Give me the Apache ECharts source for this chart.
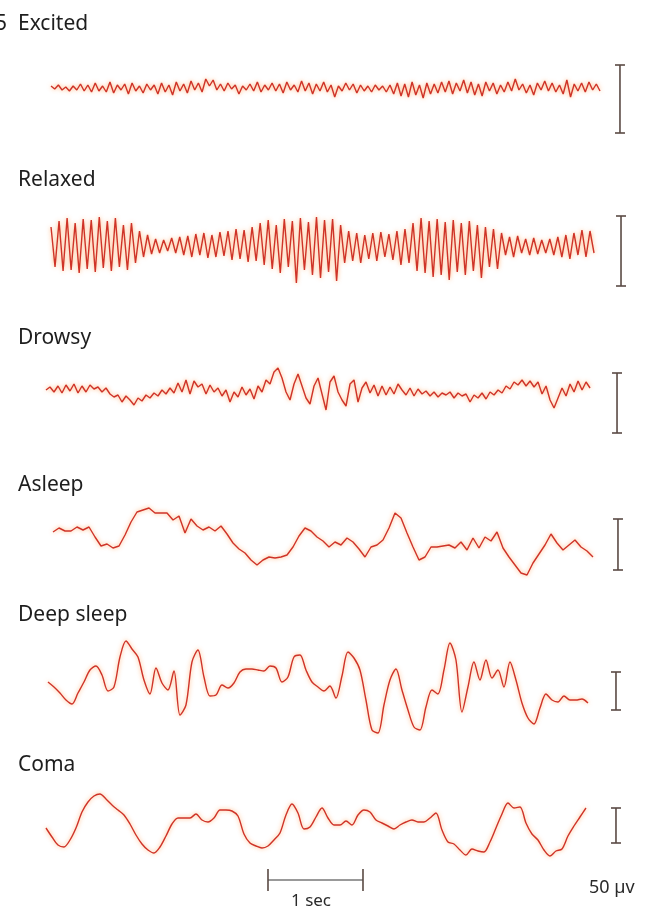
<!DOCTYPE html>
<html>
<head>
<meta charset="utf-8">
<script src="https://cdn.jsdelivr.net/npm/echarts@6/dist/echarts.min.js"></script>
<style>
  html, body { margin: 0; padding: 0; background: #fff; }
  #chart { width: 661px; height: 916px; }
</style>
</head>
<body>
<div id="chart"></div>
<script>
// EEG states, top to bottom
const ROW_NAMES = ['Excited', 'Relaxed', 'Drowsy', 'Asleep', 'Deep sleep', 'Coma'];

// deflection samples (up = positive)
const excitedTrace = [
    2,-1,3,-2,1,-3,2,-2,4,-3,3,-4,5,-3,2,
    -4,6,-5,3,-2,4,-6,5,-3,2,-5,4,-2,3,-6,
    5,-4,3,-7,6,-3,4,-5,7,-2,5,-4,9,2,8,
    -2,4,-3,5,-1,3,-6,2,-2,4,-3,6,-4,3,-2,
    5,-3,4,-5,6,-2,3,-4,7,-3,5,-6,4,-3,6,
    -4,3,-9,2,-3,5,-2,4,-5,3,-3,2,-4,3,-2,
    2,-4,3,-6,5,-8,4,-9,6,-7,3,-10,5,-6,4,
    -5,6,-4,7,-6,5,-3,8,-5,6,-7,4,-8,6,-3,
    5,-6,3,-4,6,-3,9,-2,4,-5,3,-7,5,-2,7,
    -3,5,-4,3,-6,8,-9,4,-3,5,-4,6,-2,4,-3
];
const relaxedTrace = [
    18,-22,24,-26,27,-25,22,-28,26,-24,25,-27,28,-23,24,-26,27,-22,20,-25,22,-18,
    14,-12,10,-9,6,-8,5,-6,7,-8,
    8,-10,9,-12,11,-10,12,-13,10,-12,13,-11,14,-15,16,-14,15,-17,18,-16,
    22,-20,25,-24,20,-28,26,-22,24,-38,27,-25,23,-30,28,-33,25,-27,26,-36,
    20,-18,14,-16,12,-18,10,-14,12,-16,13,-12,11,-15,14,-20,16,-18,
    22,-26,27,-28,24,-32,26,-30,23,-35,25,-27,22,-30,24,-26,20,-33,18,-22,16,-24,
    12,-10,8,-12,9,-8,6,-10,7,-9,5,-8,6,-10,8,-12,10,-14,12,-10,15,-12,14,-8
];
const drowsyTrace = [
    0,3,-2,4,-3,5,-1,6,-3,4,-2,5,1,3,-2,2,-4,-7,-5,-12,-6,-10,-15,-8,-11,-5,-8,-3,-6,0,
    -4,2,-3,7,-2,10,-4,9,3,6,-4,5,-2,2,-6,0,-12,-2,-7,3,-5,1,-9,4,-2,10,6,18,22,12,
    -2,-10,6,16,4,-8,-14,4,12,-4,-20,8,14,-2,-10,-16,6,10,-12,2,8,-3,5,-6,4,-5,3,-4,6,0,
    -5,2,-6,1,-4,-1,-6,-2,-7,-3,-5,-2,-8,-3,-6,-4,-12,-5,-8,-3,-9,-2,-5,0,-3,4,1,8,5,10,
    4,9,3,8,-4,4,-10,-18,-8,2,-6,6,-2,9,0,8,2
];
const asleepTrace = [
    8,12,9,9,13,10,13,3,-6,-4,-8,-6,5,18,28,30,32,27,27,27,20,24,7,21,14,10,13,9,14,6,
    -3,-9,-13,-20,-25,-20,-17,-18,-17,-15,-7,4,12,9,3,-1,-7,-2,-5,2,-2,-9,-17,-7,-5,0,12,27,22,7,
    -7,-20,-17,-7,-7,-6,-5,-8,-2,-10,2,-8,3,-1,8,-8,-17,-25,-33,-35,-23,-14,-5,6,-3,-10,-5,0,-7,-11,-17
];
const deepSleepTrace = [
    8,3,-3,-10,-14,-3,8,20,24,15,-1,3,33,49,41,33,10,-4,22,7,0,19,-25,-15,28,40,13,-6,-5,5,
    2,7,18,21,21,20,19,24,22,8,13,33,35,20,8,3,-1,4,-8,14,38,32,20,-10,-40,-43,-15,10,21,0,
    -20,-37,-40,-17,0,-4,20,47,30,-22,3,28,10,30,12,20,3,28,10,-13,-28,-34,-18,-4,-10,-12,-6,-10,-10,-9,-13
];
const comaTrace = [
    -3,-12,-20,-22,-15,-3,13,23,29,31,26,20,15,10,1,-10,-19,-25,-28,-22,-11,1,7,7,7,11,5,3,7,15,
    15,14,9,-9,-18,-21,-23,-21,-15,-8,10,21,12,-4,-2,8,17,7,0,0,4,0,10,15,13,5,2,-1,-4,0,
    3,5,3,3,7,12,-5,-17,-19,-25,-30,-24,-26,-27,-17,-3,11,22,17,18,2,-9,-15,-25,-31,-26,-24,-11,-1,8,17
];
const TRACES = [excitedTrace, relaxedTrace, drowsyTrace, asleepTrace, deepSleepTrace, comaTrace];

// time span of each trace, seconds
const traceStartSec = [0.537, 0.537, 0.484, 0.558, 0.505, 0.484];
const traceEndSec = [6.316, 6.253, 6.211, 6.242, 6.189, 6.168];

// 50 µV calibration bar per row (top / bottom, same units as trace)
const calibTop = [23, 29, 17, 21, 18, 17];
const calibBottom = [-45, -41, -43, -30, -20, -18];
const calibSec = [6.526, 6.537, 6.495, 6.505, 6.484, 6.484];

// 1 second time bar
const timeBarSec = [2.821, 3.821];
const timeBarLevel = -55;

// ---- layout ----
const PX_PER_SEC = 95;
const WIDTH = 661;
const ROW_BASE = [88, 245, 390, 540, 690, 825];
const ROW_LABEL_Y = [27, 183, 341, 488, 618, 768];
const ROW_SMOOTH = [false, false, false, false, 0.3, 0.3];
const HALF = 80;
const TRACE_COLOR = '#cf3328';
const BAR_COLOR = '#5a4a44';
const FONT = '"Noto Sans", "Open Sans", sans-serif';

const chart = echarts.init(document.getElementById('chart'), null, { renderer: 'canvas' });

const grids = [], xAxes = [], yAxes = [], series = [];

ROW_NAMES.forEach((name, i) => {
    grids.push({ left: 0, width: WIDTH, top: ROW_BASE[i] - HALF, height: HALF * 2 });
    xAxes.push({ gridIndex: i, type: 'value', min: 0, max: WIDTH / PX_PER_SEC, show: false });
    yAxes.push({ gridIndex: i, type: 'value', min: -HALF, max: HALF, show: false });

    const trace = TRACES[i];
    const dt = (traceEndSec[i] - traceStartSec[i]) / (trace.length - 1);
    series.push({
        name: name,
        type: 'line',
        xAxisIndex: i, yAxisIndex: i,
        data: trace.map((v, k) => [traceStartSec[i] + k * dt, v]),
        showSymbol: false,
        smooth: ROW_SMOOTH[i],
        lineStyle: {
            color: TRACE_COLOR, width: 1.4,
            shadowColor: 'rgba(255, 150, 70, 0.8)', shadowBlur: 4
        },
        silent: true
    });

    series.push({
        type: 'line',
        xAxisIndex: i, yAxisIndex: i,
        data: [[calibSec[i], calibTop[i]], [calibSec[i], calibBottom[i]]],
        symbol: 'rect', symbolSize: [10, 1.6], showSymbol: true,
        itemStyle: { color: BAR_COLOR },
        lineStyle: { color: BAR_COLOR, width: 1.6 },
        silent: true
    });
});

// time bar under the last row
series.push({
    type: 'line',
    xAxisIndex: 5, yAxisIndex: 5,
    data: timeBarSec.map(t => [t, timeBarLevel]),
    symbol: 'rect', symbolSize: [1.6, 22], showSymbol: true,
    itemStyle: { color: BAR_COLOR },
    lineStyle: { color: '#777', width: 1.6 },
    silent: true
});

const labels = ROW_NAMES.map((name, i) => ({
    type: 'text', left: 18, top: ROW_LABEL_Y[i] - 13,
    style: { text: name, font: '21px ' + FONT, fill: '#1e1e1e' }
}));
labels.push({ type: 'text', left: -5, top: ROW_LABEL_Y[0] - 13, style: { text: '5', font: '21px ' + FONT, fill: '#1e1e1e' } });
labels.push({ type: 'text', left: 291, top: 893, style: { text: '1 sec', font: '17px ' + FONT, fill: '#2a2a2a' } });
labels.push({ type: 'text', left: 589, top: 879, style: { text: '50 µv', font: '18px ' + FONT, fill: '#2a2a2a' } });

chart.setOption({
    backgroundColor: '#fff',
    animation: false,
    grid: grids,
    xAxis: xAxes,
    yAxis: yAxes,
    series: series,
    graphic: labels
});
</script>
</body>
</html>
